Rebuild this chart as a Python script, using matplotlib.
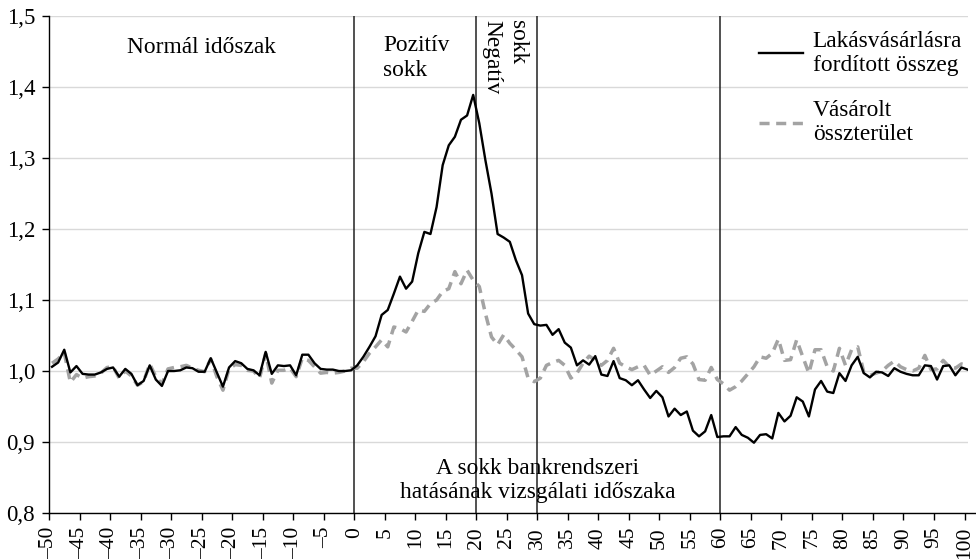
import numpy as np
import matplotlib
matplotlib.use("Agg")
import matplotlib.pyplot as plt

plt.rcParams['font.family'] = ['Liberation Serif', 'DejaVu Serif']

# months relative to the shock, -50 ... 100
months = np.arange(-50, 101)

# Lakásvásárlásra fordított összeg (index)
spent = [
    1.006, 1.012, 1.030, 0.998, 1.007, 0.996, 0.995, 0.995, 0.998, 1.003,
    1.005, 0.992, 1.003, 0.996, 0.980, 0.986, 1.008, 0.988, 0.979, 1.000,
    1.000, 1.001, 1.005, 1.004, 0.999, 0.999, 1.018, 0.998, 0.978, 1.005,
    1.014, 1.011, 1.003, 1.001, 0.994, 1.027, 0.996, 1.008, 1.007, 1.008,
    0.994, 1.023, 1.023, 1.011, 1.003, 1.002, 1.002, 1.000, 1.000, 1.001,
    1.008, 1.020, 1.034, 1.049, 1.079, 1.086, 1.109, 1.133, 1.116, 1.126,
    1.166, 1.196, 1.193, 1.231, 1.290, 1.318, 1.330, 1.354, 1.360, 1.389,
    1.349, 1.297, 1.250, 1.193, 1.188, 1.182, 1.156, 1.135, 1.081, 1.066,
    1.064, 1.065, 1.051, 1.059, 1.040, 1.033, 1.008, 1.015, 1.009, 1.021,
    0.995, 0.993, 1.014, 0.990, 0.987, 0.980, 0.987, 0.974, 0.962, 0.972,
    0.963, 0.936, 0.947, 0.938, 0.943, 0.916, 0.908, 0.915, 0.938, 0.907,
    0.908, 0.908, 0.921, 0.910, 0.906, 0.899, 0.910, 0.911, 0.905, 0.941,
    0.929, 0.937, 0.963, 0.957, 0.936, 0.974, 0.986, 0.971, 0.969, 0.997,
    0.986, 1.008, 1.020, 0.997, 0.991, 0.999, 0.998, 0.993, 1.004, 0.999,
    0.996, 0.994, 0.994, 1.008, 1.007, 0.988, 1.007, 1.008, 0.994, 1.005,
    1.002,
]

# Vásárolt összterület (index)
area = [
    1.011, 1.017, 1.026, 0.984, 0.995, 0.990, 0.992, 0.993, 0.997, 1.005,
    1.006, 0.990, 1.000, 0.993, 0.980, 0.985, 1.010, 0.992, 0.982, 1.003,
    1.005, 1.006, 1.008, 1.004, 1.001, 0.999, 1.017, 0.992, 0.973, 1.003,
    1.009, 1.008, 1.001, 1.000, 0.990, 1.025, 0.983, 1.001, 1.001, 1.004,
    0.992, 1.018, 1.015, 1.006, 0.997, 0.998, 0.997, 0.998, 1.000, 1.004,
    1.004, 1.013, 1.025, 1.034, 1.044, 1.034, 1.062, 1.060, 1.055, 1.070,
    1.086, 1.084, 1.095, 1.100, 1.112, 1.116, 1.140, 1.123, 1.142, 1.128,
    1.119, 1.081, 1.048, 1.037, 1.051, 1.039, 1.030, 1.020, 0.990, 0.985,
    0.990, 1.008, 1.012, 1.015, 1.008, 0.990, 0.997, 1.011, 1.021, 1.015,
    1.008, 1.015, 1.032, 1.011, 1.006, 1.002, 1.006, 1.008, 0.994, 1.000,
    1.006, 0.998, 1.005, 1.018, 1.020, 1.010, 0.988, 0.987, 1.005, 0.988,
    0.982, 0.973, 0.978, 0.986, 0.996, 1.006, 1.020, 1.018, 1.025, 1.045,
    1.015, 1.016, 1.044, 1.020, 0.997, 1.030, 1.030, 1.006, 1.000, 1.032,
    1.008, 1.030, 1.034, 0.998, 0.994, 0.997, 1.000, 1.008, 1.014, 1.006,
    1.002, 1.000, 1.004, 1.022, 1.002, 1.003, 1.015, 1.006, 1.004, 1.010,
    1.008,
]

period_lines = [0, 20, 30, 60]
xticks = np.arange(-50, 101, 5)
yticks = np.arange(0.8, 1.51, 0.1)

fig = plt.figure(figsize=[9.76, 5.59], dpi=100)
ax = fig.add_axes([0.0502, 0.0823, 0.9418, 0.8889])

# points sit in the middle of each month
xpos = months + 0.5
ax.plot(xpos, spent, color='black', lw=1.7, label='Lakásvásárlásra\nfordított összeg', zorder=3)
ax.plot(xpos, area, color='#a3a3a3', lw=2.5, dashes=(2.9, 1.9), label='Vásárolt\nösszterület', zorder=2)

for xv in period_lines:
    ax.axvline(xv, color='#222222', lw=1.1, zorder=1)

ax.set_xlim(-50, 100.6)
ax.set_ylim(0.8, 1.5)
ax.set_yticks(yticks)
ax.set_yticklabels([f'{v:.1f}'.replace('.', ',') for v in yticks])
ax.set_xticks(xticks)
ax.set_xticklabels([str(v).replace('-', '\u2013') for v in xticks], rotation=90)
ax.grid(axis='y', color='#d9d9d9', lw=1.0, zorder=0)
ax.set_axisbelow(True)

for s in ['top', 'right']:
    ax.spines[s].set_visible(False)
ax.spines['left'].set_linewidth(1.0)
ax.spines['bottom'].set_linewidth(1.0)
ax.spines['bottom'].set_bounds(-50, 101.9)
ax.tick_params(axis='both', direction='out', length=5, width=1.0, labelsize=15.5)
ax.tick_params(axis='y', pad=5, labelsize=16.5)
ax.tick_params(axis='x', pad=5)

txt = dict(fontsize=16.8, color='black')
ax.text(-25.1, 1.456, 'Normál időszak', ha='center', va='center', **txt)
ax.text(4.7, 1.441, 'Pozitív\nsokk', ha='left', va='center', linespacing=1.2, **txt)
ax.text(22.6, 1.494, 'Negatív', ha='center', va='top', rotation=-90, **txt)
ax.text(26.7, 1.494, 'sokk', ha='center', va='top', rotation=-90, **txt)
ax.text(30.1, 0.846, 'A sokk bankrendszeri\nhatásának vizsgálati időszaka', ha='center', va='center', linespacing=1.15, **txt)

ax.legend(loc='upper left', bbox_to_anchor=(0.772, 0.971), frameon=False, fontsize=16.8,
          handlelength=1.9, handletextpad=0.42, labelspacing=1.05, borderaxespad=0, borderpad=0)

fig.savefig('out.png', dpi=100)
